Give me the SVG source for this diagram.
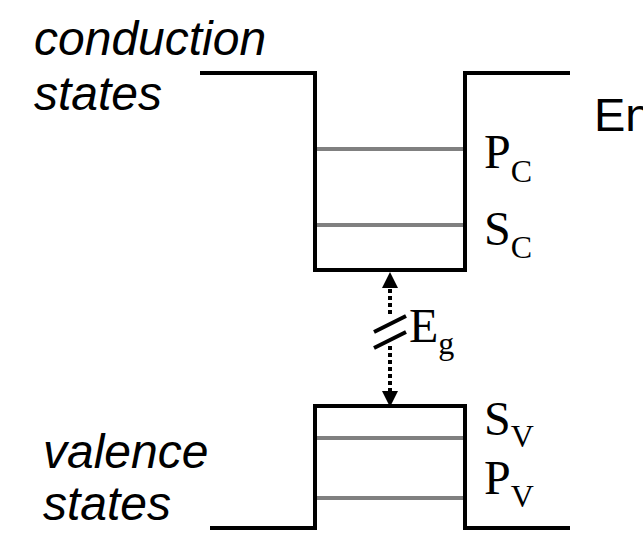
<svg xmlns="http://www.w3.org/2000/svg" width="643" height="540" viewBox="0 0 643 540">
<defs>
<style>
.band{fill:none;stroke:#000;stroke-width:4;stroke-linejoin:miter}
.level{stroke:#808080;stroke-width:4}
.lab{font-family:"Liberation Sans",Arial,sans-serif;font-style:italic;font-size:48px;fill:#000}
.sym{font-family:"Liberation Serif","Times New Roman",serif;font-size:48px;fill:#000}
.sub{font-size:32px}
.dots{stroke:#000;stroke-width:4;stroke-dasharray:4 3;fill:none}
.brk{stroke:#000;stroke-width:4}
</style>
</defs>
<rect width="643" height="540" fill="#fff"/>
<g id="conduction-band">
<path class="band" d="M200,73 H315 V270 H465 V73 H570"/>
<line class="level" x1="317" y1="149" x2="463" y2="149"/>
<line class="level" x1="317" y1="225" x2="463" y2="225"/>
<text class="lab" x="34" y="55">conduction</text>
<text class="lab" x="34" y="110">states</text>
<text class="sym" x="484" y="168">P<tspan class="sub" dy="14">C</tspan></text>
<text class="sym" x="484" y="245">S<tspan class="sub" dy="13">C</tspan></text>
</g>
<g id="valence-band">
<path class="band" d="M210,528 H315 V406 H465 V528 H570"/>
<line class="level" x1="317" y1="438" x2="463" y2="438"/>
<line class="level" x1="317" y1="498" x2="463" y2="498"/>
<text class="lab" x="43" y="468">valence</text>
<text class="lab" x="43" y="520">states</text>
<text class="sym" x="484" y="435">S<tspan class="sub" dy="12">V</tspan></text>
<text class="sym" x="484" y="494">P<tspan class="sub" dy="13">V</tspan></text>
</g>
<g id="energy-axis">
<text x="594" y="131" font-family="'Liberation Sans',Arial,sans-serif" font-size="47">En</text>
</g>
<g id="connectors">
<line class="dots" x1="390" y1="289" x2="390" y2="315"/>
<line class="dots" x1="390" y1="346" x2="390" y2="393"/>
<polygon points="390,272 382,288 398,288" fill="#000"/>
<polygon points="390,407 382,391 398,391" fill="#000"/>
<line class="brk" x1="374" y1="332" x2="406" y2="316"/>
<line class="brk" x1="374" y1="348" x2="406" y2="332"/>
<text class="sym" x="409" y="342">E<tspan class="sub" dy="12">g</tspan></text>
</g>
</svg>
